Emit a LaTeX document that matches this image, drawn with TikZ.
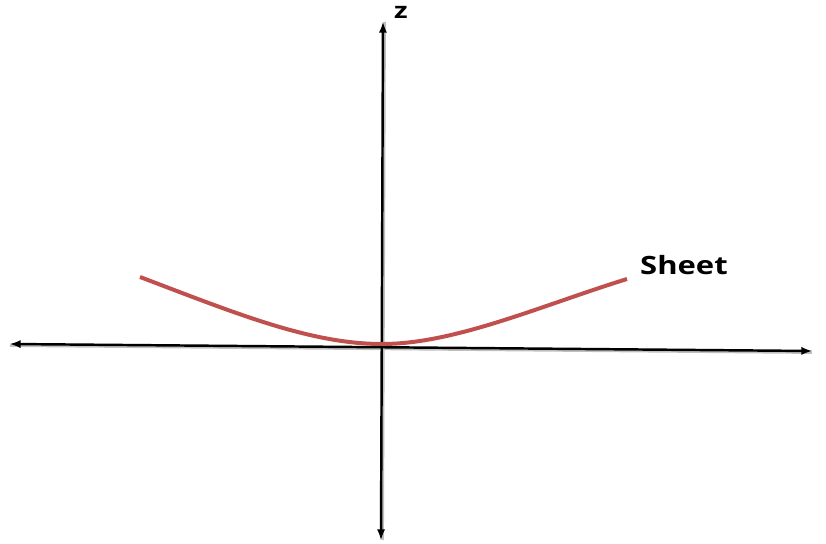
\documentclass[tikz,border=0pt]{standalone}
\usepackage{fontspec}
\setsansfont{Open Sans}
\usepackage{tikz}
\usepackage{xcolor}
\usetikzlibrary{arrows}

\definecolor{sheetred}{RGB}{192,80,77}

\begin{document}
\begin{tikzpicture}[x=0.03cm,y=-0.03cm]
\useasboundingbox (0,0) rectangle (826,544);
% axes
\coordinate (xl) at (10,344);
\coordinate (xr) at (812,351);
\coordinate (zt) at (383,22);
\coordinate (zb) at (381,540);
\draw[black!25,line width=2pt] ([yshift=-1.5pt]xl) -- ([yshift=-1.5pt]xr);
\draw[black!25,line width=2pt] ([xshift=1.5pt]zt) -- ([xshift=1.5pt]zb);
\draw[latex-latex,line width=2.1pt] (xl) -- (xr);
\draw[latex-latex,line width=2.1pt] (zb) -- (zt);
% the sheet
\coordinate (sl) at (140,277);
\coordinate (s0) at (382,344);
\coordinate (sr) at (627,279);
\draw[sheetred,line width=3.4pt] (sl) .. controls (235,313) and (310,344) .. (s0)
  .. controls (455,344) and (540,306) .. (sr);
\node[anchor=base west,inner sep=0pt] (zlab) at (394,19) {\sffamily\bfseries\fontsize{19}{22}\selectfont\scalebox{1.25}[1]{z}};
\node[anchor=base west,inner sep=0pt] (sheet) at (640,275) {\sffamily\bfseries\fontsize{21.5}{25}\selectfont\scalebox{1.23}[1]{Sheet}};
\end{tikzpicture}
\end{document}
